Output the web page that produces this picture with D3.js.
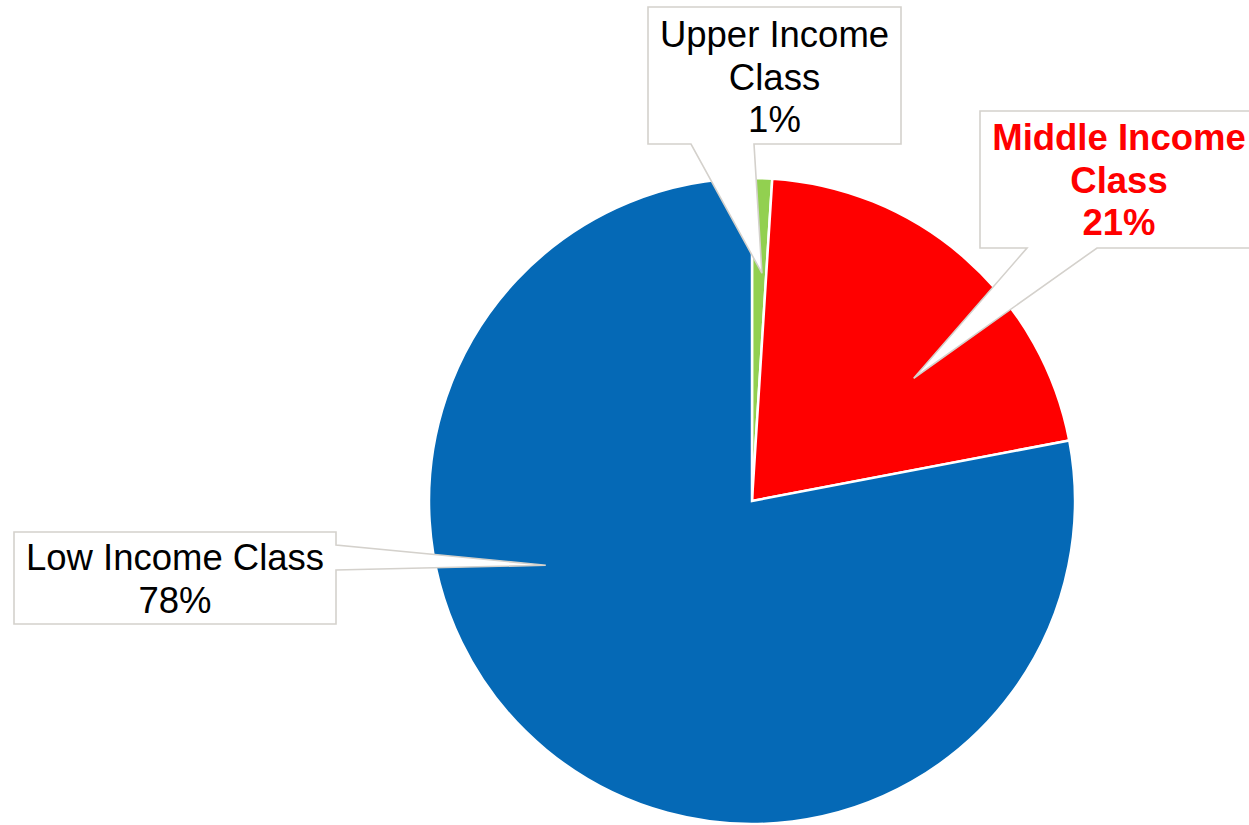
<!DOCTYPE html>
<html>
<head>
<meta charset="utf-8">
<script src="https://cdn.jsdelivr.net/npm/d3@7"></script>
<style>
  html, body { margin: 0; padding: 0; background: #fff; }
  svg { display: block; }
</style>
</head>
<body>
<div id="chart"></div>
<script>
// data
const categories = ['Upper Income Class', 'Middle Income Class', 'Low Income Class'];
const shares = [1, 21, 78];
const labelLines = [['Upper Income', 'Class'], ['Middle Income', 'Class'], ['Low Income Class']];

const config = {
  width: 1249,
  height: 825,
  cx: 752,
  cy: 501,
  radius: 323,
  colors: ['#92d050', '#ff0000', '#0569b6'],
  textColors: ['#000', '#ff0000', '#000'],
  fontWeights: ['normal', 'bold', 'normal'],
  fontSize: 36.5,
  lineHeight: 42.5,
};

// callout boxes: rect, pointer base and tip (tip given as angle/radius on the pie)
const callouts = [
  { x0: 648, y0: 7, x1: 901, y1: 144, side: 'bottom', b0: 691, b1: 754, tipAngle: 2.5, tipR: 228, firstBaseline: 47 },
  { x0: 980, y0: 111, x1: 1258, y1: 248, side: 'bottom', b0: 1027, b1: 1097, tipAngle: 52.8, tipR: 203, firstBaseline: 150 },
  { x0: 14, y0: 532, x1: 336, y1: 624, side: 'right', b0: 545, b1: 570, tipAngle: 252.7, tipR: 216, firstBaseline: 570 },
];

const svg = d3.select('#chart')
  .append('svg')
  .attr('width', config.width)
  .attr('height', config.height);

const pie = d3.pie()
  .sort(null)
  .value((d) => d);

const arc = d3.arc()
  .innerRadius(0)
  .outerRadius(config.radius);

const arcs = pie(shares);

const g = svg.append('g')
  .attr('transform', `translate(${config.cx},${config.cy})`);

g.selectAll('path.slice')
  .data(arcs)
  .enter()
  .append('path')
  .attr('class', 'slice')
  .attr('d', arc)
  .attr('fill', (d, i) => config.colors[i])
  .attr('stroke', '#fff')
  .attr('stroke-width', 2.5)
  .attr('stroke-linejoin', 'miter');

function tipPoint(c) {
  const a = c.tipAngle * Math.PI / 180;
  return [config.cx + c.tipR * Math.sin(a), config.cy - c.tipR * Math.cos(a)];
}

function calloutPath(c) {
  const [tx, ty] = tipPoint(c);
  const p = d3.path();
  p.moveTo(c.x0, c.y0);
  p.lineTo(c.x1, c.y0);
  if (c.side === 'right') {
    p.lineTo(c.x1, c.b0);
    p.lineTo(tx, ty);
    p.lineTo(c.x1, c.b1);
    p.lineTo(c.x1, c.y1);
    p.lineTo(c.x0, c.y1);
  }
  else {
    p.lineTo(c.x1, c.y1);
    p.lineTo(c.b1, c.y1);
    p.lineTo(tx, ty);
    p.lineTo(c.b0, c.y1);
    p.lineTo(c.x0, c.y1);
  }
  p.closePath();
  return p.toString();
}

const labels = svg.selectAll('g.callout')
  .data(callouts)
  .enter()
  .append('g')
  .attr('class', 'callout');

labels.append('path')
  .attr('d', calloutPath)
  .attr('fill', '#fff')
  .attr('stroke', '#d4d1cc')
  .attr('stroke-width', 1.6);

labels.each(function (c, i) {
  const lines = labelLines[i].concat([`${shares[i]}%`]);
  const text = d3.select(this)
    .append('text')
    .attr('text-anchor', 'middle')
    .attr('font-family', 'Liberation Sans, Arial, sans-serif')
    .attr('font-size', config.fontSize)
    .attr('font-weight', config.fontWeights[i])
    .attr('fill', config.textColors[i]);
  lines.forEach((line, k) => {
    text.append('tspan')
      .attr('x', (c.x0 + c.x1) / 2)
      .attr('y', c.firstBaseline + k * config.lineHeight)
      .text(line);
  });
});
</script>
</body>
</html>
